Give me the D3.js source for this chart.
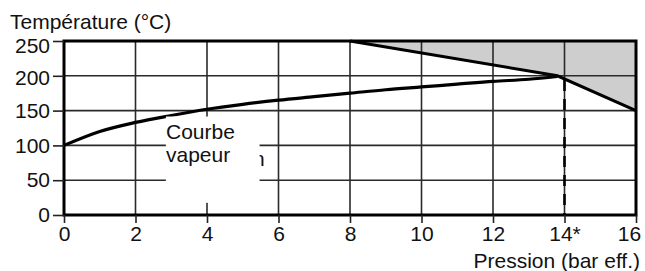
<!DOCTYPE html>
<html><head><meta charset="utf-8">
<script src="https://cdn.jsdelivr.net/npm/d3@7"></script>
<style>
body{margin:0;background:#fff}
svg{display:block}
text{font-family:"Liberation Sans",Arial,Helvetica,sans-serif;fill:#111}
</style>
</head><body>
<svg id="c" width="645" height="271"></svg>
<script>
// ---- data ----
const xTickValues = [0, 2, 4, 6, 8, 10, 12, 14, 16];
const xTickLabels = ["0", "2", "4", "6", "8", "10", "12", "14*", "16"];
const yTickValues = [0, 50, 100, 150, 200, 250];
const vaporPressure = [0, 1, 2, 3, 4, 5, 6, 7, 8, 9, 10, 11, 12, 13, 13.8];
const vaporTemp     = [100, 120, 133, 143, 152, 159, 165, 170, 175, 180, 184, 188, 192, 195, 199];
const limitPressure = [8, 13.8, 16];
const limitTemp     = [250, 200, 150];
const markerPressure = 14;
const yTitle = "Température (°C)";
const xTitle = "Pression (bar eff.)";
const curveLabel = ["Courbe", "vapeur"];

// ---- layout ----
const svg = d3.select("#c");
const L = 64, R = 636, T = 41, B = 215;
const x = d3.scaleLinear().domain([0, 16]).range([L, R]);
const y = d3.scaleLinear().domain([0, 250]).range([B, T]);

// gray zone above the limit line
const limitPts = limitPressure.map((p, i) => [p, limitTemp[i]]);
const area = d3.area().x(d => x(d[0])).y0(y(250)).y1(d => y(d[1]));
svg.append("path").datum(limitPts).attr("d", area).attr("fill", "#cecece");

// grid
const g = svg.append("g").attr("stroke", "#2a2a2a").attr("stroke-width", 1.6);
g.selectAll("line.v").data(xTickValues.slice(1, -1)).join("line")
  .attr("x1", d => x(d)).attr("x2", d => x(d)).attr("y1", T).attr("y2", B);
g.selectAll("line.h").data(yTickValues.slice(1, -1)).join("line")
  .attr("x1", L).attr("x2", R).attr("y1", d => y(d)).attr("y2", d => y(d));

// vapour curve
const vapPts = vaporPressure.map((p, i) => [p, vaporTemp[i]]);
svg.append("path").datum(vapPts)
  .attr("d", d3.line().x(d => x(d[0])).y(d => y(d[1])).curve(d3.curveMonotoneX))
  .attr("fill", "none").attr("stroke", "#000").attr("stroke-width", 3.2);

// limit line
svg.append("path").datum(limitPts)
  .attr("d", d3.line().x(d => x(d[0])).y(d => y(d[1])))
  .attr("fill", "none").attr("stroke", "#000").attr("stroke-width", 3);

// dashed marker
svg.append("line")
  .attr("x1", x(markerPressure)).attr("x2", x(markerPressure))
  .attr("y1", y(194)).attr("y2", B)
  .attr("stroke", "#000").attr("stroke-width", 2.6).attr("stroke-dasharray", "11,8");

// leftover glyph + label box
svg.append("text").attr("x", 253).attr("y", 166).attr("font-size", 21).text("n");
svg.append("rect")
  .attr("x", x(2.85)).attr("y", y(141.5))
  .attr("width", x(5.47) - x(2.85)).attr("height", y(17.5) - y(141.5))
  .attr("fill", "#fff");
const lbl = svg.append("text").attr("font-size", 21);
lbl.append("tspan").attr("x", 166).attr("y", 139).text(curveLabel[0]);
lbl.append("tspan").attr("x", 166).attr("y", 162).text(curveLabel[1]);

// frame
svg.append("rect").attr("x", L).attr("y", T).attr("width", R - L).attr("height", B - T)
  .attr("fill", "none").attr("stroke", "#000").attr("stroke-width", 3);

// axes
const ax = svg.append("g").attr("transform", `translate(0,${B})`)
  .call(d3.axisBottom(x).tickValues(xTickValues).tickFormat((d, i) => xTickLabels[i]).tickSize(8).tickPadding(3));
const ay = svg.append("g").attr("transform", `translate(${L},0)`)
  .call(d3.axisLeft(y).tickValues(yTickValues).tickSize(11).tickPadding(3));
[ax, ay].forEach(a => {
  a.select(".domain").remove();
  a.selectAll(".tick line").attr("stroke", "#222").attr("stroke-width", 1.6);
  a.selectAll(".tick text").attr("font-size", 21).attr("font-family", "'Liberation Sans',Arial,sans-serif").attr("fill", "#111");
});
// nudge edge labels like the original
ax.selectAll(".tick text").filter(d => d === 16).attr("dx", -7);
ay.selectAll(".tick text").filter(d => d === 250).attr("dy", "0.57em");
ay.selectAll(".tick text").filter(d => d === 200).attr("dy", "0.4em");

// titles
svg.append("text").attr("x", 10).attr("y", 29).attr("font-size", 21).text(yTitle);
svg.append("text").attr("x", 640).attr("y", 268).attr("text-anchor", "end").attr("font-size", 21).text(xTitle);
</script>
</body></html>
